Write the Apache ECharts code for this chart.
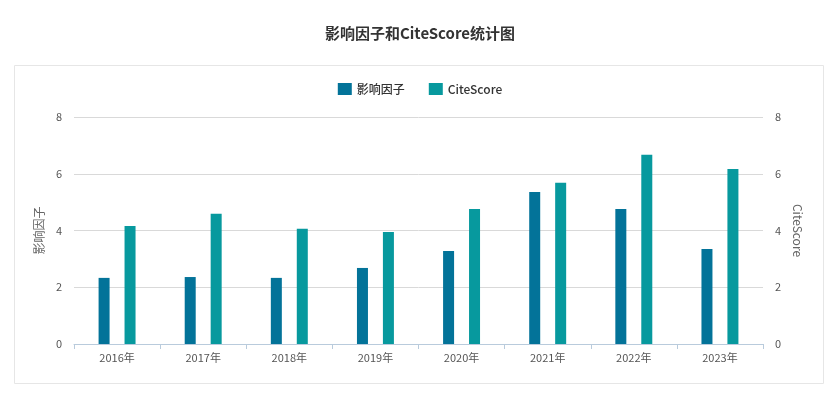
<!DOCTYPE html>
<html>
<head>
<meta charset="utf-8">
<title>影响因子和CiteScore统计图</title>
<script src="https://cdn.jsdelivr.net/npm/echarts@6/dist/echarts.min.js"></script>
<style>
  html, body { margin: 0; padding: 0; background: #fff; }
  #chart { width: 840px; height: 402px; }
</style>
</head>
<body>
<div id="chart"></div>
<script>
  // 数据
  var years = ['2016年', '2017年', '2018年', '2019年', '2020年', '2021年', '2022年', '2023年']
  var impactFactor = [2.33, 2.36, 2.33, 2.68, 3.28, 5.36, 4.76, 3.35]
  var citeScore = [4.16, 4.59, 4.06, 3.95, 4.76, 5.68, 6.67, 6.17]
  var yTicks = [0, 2, 4, 6, 8]

  var font = '"Noto Sans CJK SC", "Noto Sans", sans-serif'
  var myChart = echarts.init(document.getElementById('chart'))

  var yAxisBase = {
    type: 'value',
    min: yTicks[0],
    max: yTicks[yTicks.length - 1],
    interval: yTicks[1] - yTicks[0],
    nameLocation: 'middle',
    nameTextStyle: { color: '#666', fontSize: 12, fontFamily: font },
    axisLine: { show: false },
    axisTick: { show: false },
    axisLabel: { color: '#555', fontSize: 11, fontFamily: font, margin: 12 }
  }

  myChart.setOption({
    textStyle: { fontFamily: font },
    title: {
      text: '影响因子和CiteScore统计图',
      left: 'center',
      top: 21,
      textStyle: { color: '#333', fontSize: 15, fontWeight: 'bold', fontFamily: font }
    },
    graphic: [{
      type: 'rect',
      shape: { x: 14.5, y: 65.5, width: 809, height: 318 },
      style: { fill: 'none', stroke: '#e6e6e6', lineWidth: 1 },
      z: -1
    }],
    legend: {
      data: ['影响因子', 'CiteScore'],
      top: 78,
      left: 'center',
      icon: 'rect',
      itemWidth: 14,
      itemHeight: 12,
      itemGap: 24,
      textStyle: { color: '#333', fontSize: 12, fontWeight: 500, fontFamily: font }
    },
    grid: {
      left: 74,
      right: 77,
      top: 117,
      bottom: 58
    },
    xAxis: {
      type: 'category',
      data: years,
      axisLine: { lineStyle: { color: '#b9cbdc' } },
      axisTick: { show: true, length: 5, lineStyle: { color: '#b9cbdc' } },
      axisLabel: { color: '#555', fontSize: 11, margin: 8, fontFamily: font }
    },
    yAxis: [
      Object.assign({}, yAxisBase, {
        name: '影响因子',
        nameGap: 28,
        splitLine: { lineStyle: { color: '#d9d9d9' } }
      }),
      Object.assign({}, yAxisBase, {
        name: 'CiteScore',
        nameGap: 28,
        nameRotate: -90,
        splitLine: { show: false }
      })
    ],
    series: [
      {
        name: '影响因子',
        type: 'bar',
        yAxisIndex: 0,
        data: impactFactor,
        barWidth: 11,
        barGap: '136%',
        color: '#037399'
      },
      {
        name: 'CiteScore',
        type: 'bar',
        yAxisIndex: 1,
        data: citeScore,
        barWidth: 11,
        barGap: '136%',
        color: '#07999e'
      }
    ]
  })
</script>
</body>
</html>
